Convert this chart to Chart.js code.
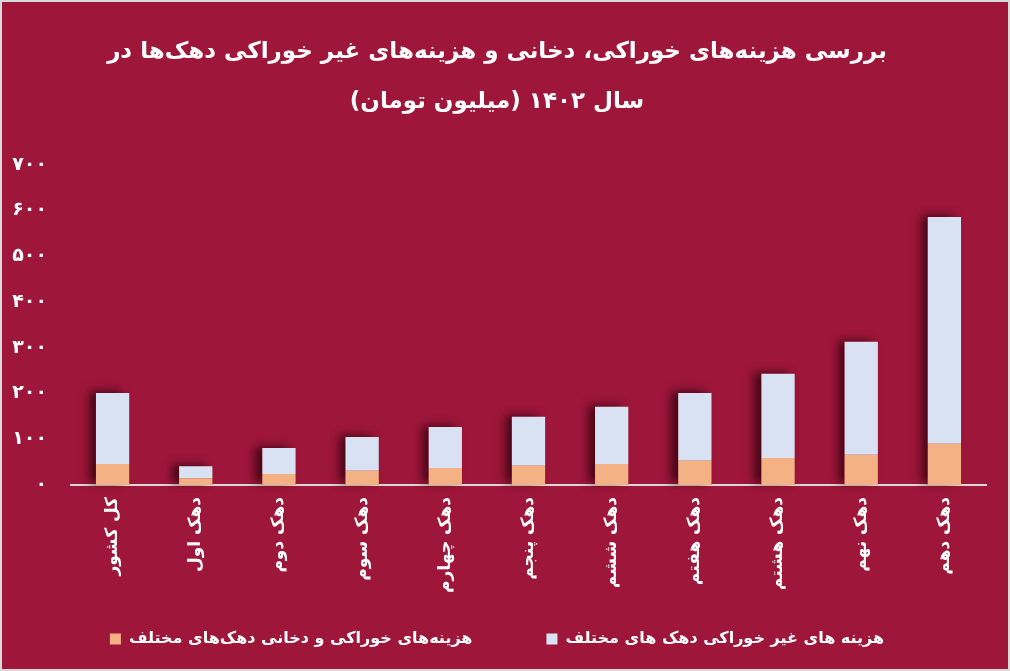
<!DOCTYPE html>
<html>
<head>
<meta charset="utf-8">
<script src="https://cdn.jsdelivr.net/npm/chart.js@4"></script>
<style>
  html, body { margin: 0; padding: 0; background: #d9d9d9; }
  #wrap { width: 1006px; height: 667px; border: 2px solid #d9d9d9; background: #9e163a; }
</style>
</head>
<body>
<div id="wrap"><canvas id="myChart" width="1006" height="667"></canvas></div>
<script>
var categories = ["کل کشور", "دهک اول", "دهک دوم", "دهک سوم", "دهک چهارم", "دهک پنجم",
  "دهک ششم", "دهک هفتم", "دهک هشتم", "دهک نهم", "دهک دهم"];
var foodValues = [46, 15, 24, 31, 37, 42, 46, 53, 59, 66, 90];
var nonFoodValues = [155, 26, 57, 74, 90, 107, 125, 148, 184, 247, 496];
var yTickLabels = ["۰", "۱۰۰", "۲۰۰", "۳۰۰", "۴۰۰", "۵۰۰", "۶۰۰", "۷۰۰"];

var fontName = "'DejaVu Sans', sans-serif";

// dark shadow on the left of each whole stacked bar
var barShadow = {
  id: 'barShadow',
  beforeDatasetsDraw: function(chart) {
    var ctx = chart.ctx;
    var bottomMeta = chart.getDatasetMeta(0);
    var topMeta = chart.getDatasetMeta(1);
    ctx.save();
    ctx.shadowColor = 'rgba(40,0,10,0.75)';
    ctx.shadowBlur = 9;
    ctx.shadowOffsetX = -7;
    ctx.shadowOffsetY = -2;
    ctx.fillStyle = '#9e163a';
    topMeta.data.forEach(function(bar, i) {
      var base = bottomMeta.data[i].base;
      ctx.fillRect(bar.x - bar.width / 2, bar.y, bar.width, base - bar.y);
    });
    ctx.restore();
  }
};

new Chart("myChart", {
  type: 'bar',
  data: {
    labels: categories,
    datasets: [{
      // trailing em spaces widen the gap between the two legend items
      label: "هزینه‌های خوراکی و دخانی دهک‌های مختلف\u2003\u2003\u2003",
      data: foodValues,
      backgroundColor: '#f4b183',
      barPercentage: 0.4,
      categoryPercentage: 1
    }, {
      label: "هزینه های غیر خوراکی دهک های مختلف",
      data: nonFoodValues,
      backgroundColor: '#d9e2f3',
      barPercentage: 0.4,
      categoryPercentage: 1
    }]
  },
  options: {
    responsive: false,
    animation: false,
    layout: { padding: { left: 6, right: 22, top: 0, bottom: 12 } },
    plugins: {
      title: {
        display: true,
        text: ["بررسی هزینه‌های خوراکی، دخانی و هزینه‌های غیر خوراکی دهک‌ها در", "سال ۱۴۰۲ (میلیون تومان)"],
        color: '#ffffff',
        font: { family: fontName, size: 23, weight: 'bold', lineHeight: 2.17 },
        padding: { top: 25, bottom: 38 }
      },
      legend: {
        position: 'bottom',
        labels: {
          color: '#ffffff',
          font: { family: fontName, size: 16, weight: 'bold' },
          boxWidth: 11,
          boxHeight: 11,
          padding: 26
        }
      },
      tooltip: { enabled: false }
    },
    scales: {
      x: {
        stacked: true,
        grid: { display: false, drawTicks: false },
        border: { color: '#d9d9d9', width: 2 },
        ticks: {
          color: '#ffffff',
          font: { family: fontName, size: 17, weight: 'bold' },
          minRotation: 90,
          maxRotation: 90,
          padding: 12
        },
        afterFit: function(scale) { scale.height = 120; }
      },
      y: {
        stacked: true,
        min: 0,
        max: 700,
        grid: { display: false, drawTicks: false },
        border: { display: false },
        ticks: {
          stepSize: 100,
          color: '#ffffff',
          font: { family: fontName, size: 19, weight: 'bold' },
          padding: 24,
          callback: function(value, index) { return yTickLabels[index]; }
        },
        afterFit: function(scale) { scale.width = 63; }
      }
    }
  },
  plugins: [barShadow]
});
</script>
</body>
</html>
